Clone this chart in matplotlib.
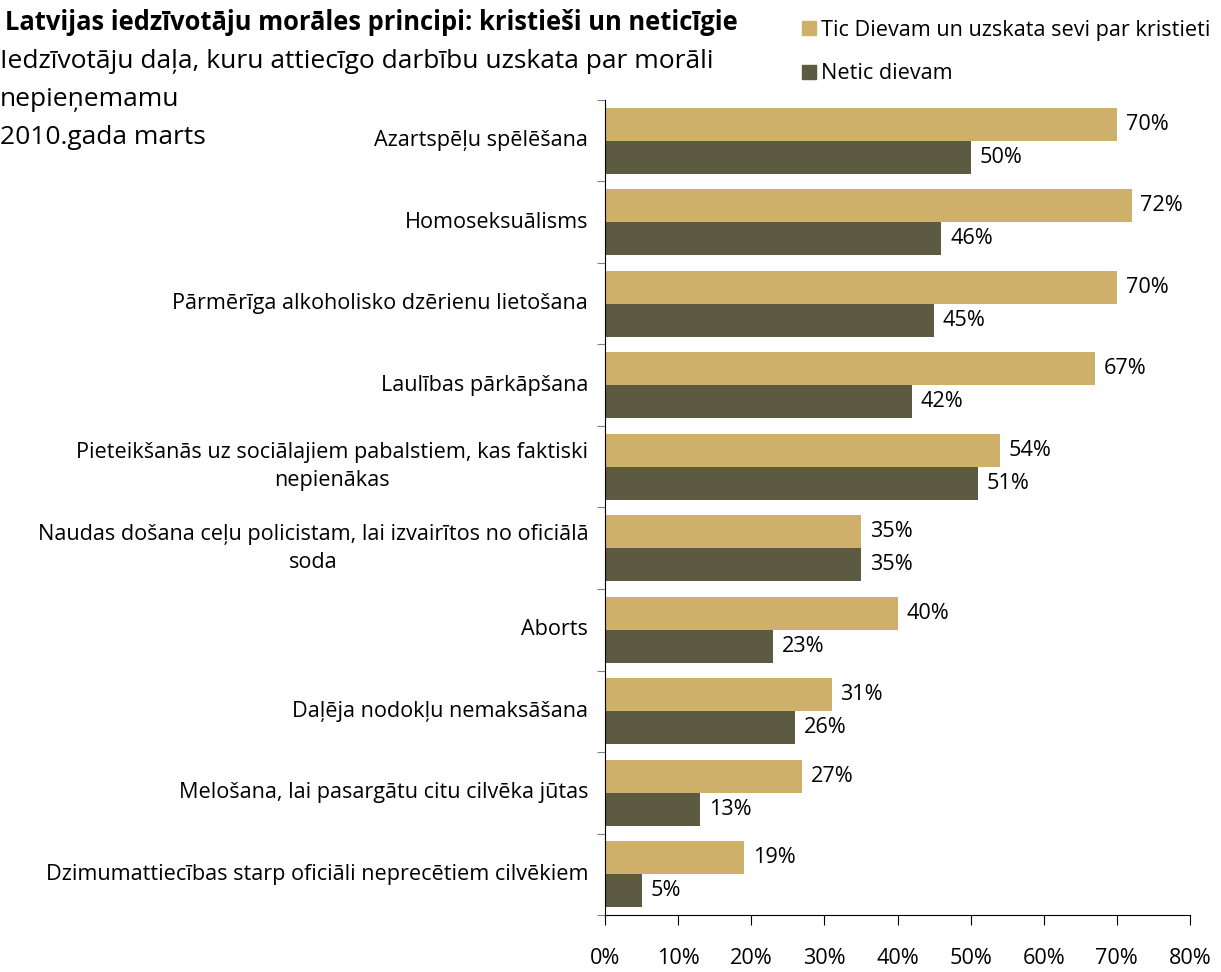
import numpy as np
import matplotlib
matplotlib.use("Agg")
import matplotlib.pyplot as plt
from matplotlib.patches import Patch

plt.rcParams['font.family'] = ['Open Sans', 'DejaVu Sans']

categories = [
    "Azartspēļu spēlēšana",
    "Homoseksuālisms",
    "Pārmērīga alkoholisko dzērienu lietošana",
    "Laulības pārkāpšana",
    "Pieteikšanās uz sociālajiem pabalstiem, kas faktiski\nnepienākas",
    "Naudas došana ceļu policistam, lai izvairītos no oficiālā\nsoda",
    "Aborts",
    "Daļēja nodokļu nemaksāšana",
    "Melošana, lai pasargātu citu cilvēka jūtas",
    "Dzimumattiecības starp oficiāli neprecētiem cilvēkiem",
]
christians = [70, 72, 70, 67, 54, 35, 40, 31, 27, 19]
nonbelievers = [50, 46, 45, 42, 51, 35, 23, 26, 13, 5]
series_names = ["Tic Dievam un uzskata sevi par kristieti", "Netic dievam"]
x_ticks = [0, 10, 20, 30, 40, 50, 60, 70, 80]

TAN = "#CFB06B"
DARK = "#5C5A40"
FS = 15.6

fig = plt.figure(figsize=(12.21, 9.72), dpi=100)
ax = fig.add_axes([605 / 1221, 1 - 915 / 972, 585 / 1221, 815 / 972])

n = len(categories)
y = np.arange(n)
h = 0.405
ax.barh(y - h / 2, christians, height=h, color=TAN)
ax.barh(y + h / 2, nonbelievers, height=h, color=DARK)

for yi, v in zip(y - h / 2, christians):
    ax.text(v + 1.2, yi, f"{v}%", va="center", ha="left", fontsize=FS)
for yi, v in zip(y + h / 2, nonbelievers):
    ax.text(v + 1.2, yi, f"{v}%", va="center", ha="left", fontsize=FS)

ax.set_ylim(n - 0.5, -0.5)
ax.set_xlim(0, 80)
ax.set_xticks(x_ticks)
ax.set_xticklabels([f"{t}%" for t in x_ticks], fontsize=FS)
ax.tick_params(axis="x", length=7, pad=17, color="black")

# category labels between boundary ticks
ax.set_yticks(np.arange(-0.5, n, 1.0))
ax.set_yticklabels([])
ax.tick_params(axis="y", length=6, color="#808080")
for yi, lab in zip(y, categories):
    ax.text(-2.3, yi, lab, ha="right", va="center", multialignment="center",
            fontsize=FS, linespacing=1.45)

for s in ["top", "right"]:
    ax.spines[s].set_visible(False)
ax.spines["left"].set_color("black")
ax.spines["bottom"].set_color("black")

fig.text(5 / 1221, 1 - 22 / 972, "Latvijas iedzīvotāju morāles principi: kristieši un neticīgie",
         fontsize=18.4, fontweight="bold", va="center", ha="left")
fig.text(0, 1 - 62 / 972, "Iedzīvotāju daļa, kuru attiecīgo darbību uzskata par morāli",
         fontsize=19, va="center", ha="left")
fig.text(0, 1 - 100 / 972, "nepieņemamu", fontsize=19, va="center", ha="left")
fig.text(0, 1 - 138 / 972, "2010.gada marts", fontsize=19, va="center", ha="left")

handles = [Patch(color=TAN), Patch(color=DARK)]
fig.legend(handles, series_names, loc="upper left", bbox_to_anchor=(793 / 1221, 1 - 11 / 972),
           frameon=False, fontsize=15.6, handlelength=0.65, handleheight=0.65,
           handletextpad=0.25, labelspacing=1.05, borderaxespad=0)

fig.savefig("out.png", dpi=100)
